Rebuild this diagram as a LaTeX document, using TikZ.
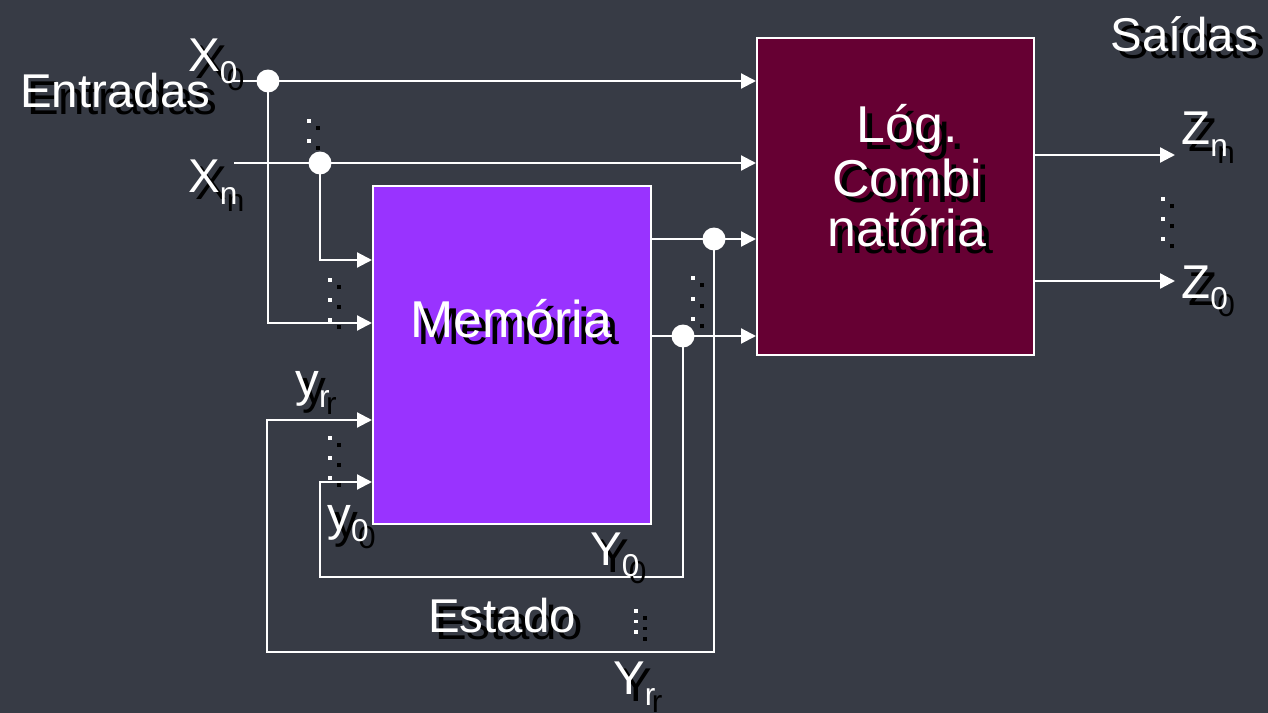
\documentclass[tikz,border=0pt]{standalone}
\usepackage{fontspec}
\setmainfont{Liberation Sans}
\usetikzlibrary{arrows.meta}
\definecolor{bg}{RGB}{55,59,69}
\definecolor{mempurple}{HTML}{9933FF}
\definecolor{logred}{HTML}{660033}
\newcommand\lsub[1]{\raisebox{-6.5pt}{\fontsize{18}{18}\selectfont #1}}
\newcommand\bigf{\fontsize{29.5}{33}\selectfont}
\newcommand\shtxt[4][]{%
  \node[lbl,#1,text=black,xshift=0.14cm,yshift=-0.14cm] (#2-sh) at (#3) {#4};
  \node[lbl,#1] (#2) at (#3) {#4};}
\newcommand\dotcol[3]{%
  \foreach \yy in {#2} {
    \fill[black] (#1+9-#3/2,\yy+7-#3/2) rectangle ++(#3,#3);
    \fill[white] (#1-#3/2,\yy-#3/2) rectangle ++(#3,#3);}}
\begin{document}
\begin{tikzpicture}[x=0.02cm,y=-0.02cm,
  lbl/.style={text=white,font=\fontsize{27}{30}\selectfont,inner sep=0pt,anchor=base west},
  box/.style={draw=white,line width=1.2pt,inner sep=0pt},
  wire/.style={draw=white,line width=1.3pt},
  arr/.style={wire,-{Triangle[length=8.5pt,width=8.5pt]}},
  jdot/.style={circle,fill=white,inner sep=0pt,minimum size=0.46cm}]
\fill[bg] (0,0) rectangle (1268,713);
\useasboundingbox (0,0) rectangle (1268,713);
% blocks
\node[box,fill=mempurple,minimum width=5.56cm,minimum height=6.76cm] (mem) at (512,355) {};
\node[box,fill=logred,minimum width=5.54cm,minimum height=6.34cm] (logic) at (895.5,196.5) {};
% junction dots
\node[jdot] (d0) at (268,81) {};
\node[jdot] (dn) at (320,163) {};
\node[jdot] (dr) at (714,239) {};
\node[jdot] (do) at (683,336) {};
% coordinates
\coordinate (x0s) at (233,81);
\coordinate (x0c) at (268,323);
\coordinate (xns) at (234,163);
\coordinate (xnc) at (320,260);
\coordinate (fr1) at (714,652);
\coordinate (fr2) at (267,652);
\coordinate (fr3) at (267,420);
\coordinate (fo1) at (683,577);
\coordinate (fo2) at (320,577);
\coordinate (fo3) at (320,482);
\coordinate (zne) at (1175,155);
\coordinate (z0e) at (1175,281);
% inputs
\draw[arr] (x0s) -- (logic.west |- x0s);
\draw[arr] (d0.center) -- (x0c) -- (mem.west |- x0c);
\draw[arr] (xns) -- (logic.west |- xns);
\draw[arr] (dn.center) -- (xnc) -- (mem.west |- xnc);
% memory outputs
\draw[arr] (mem.east |- dr) -- (logic.west |- dr);
\draw[arr] (mem.east |- do) -- (logic.west |- do);
\draw[arr] (dr.center) -- (fr1) -- (fr2) -- (fr3) -- (mem.west |- fr3);
\draw[arr] (do.center) -- (fo1) -- (fo2) -- (fo3) -- (mem.west |- fo3);
% outputs
\draw[arr] (logic.east |- zne) -- (zne);
\draw[arr] (logic.east |- z0e) -- (z0e);
% vertical ellipses
\dotcol{309}{121,141}{4.5}
\dotcol{330}{280,300,320}{4.5}
\dotcol{693}{278,299,319}{4.5}
\dotcol{1163}{199,219,239}{4.5}
\dotcol{330}{438,458,478}{4.5}
\dotcol{636}{611,621.5,632}{3.5}
% labels
\shtxt{tX0}{188,72}{X\lsub{0}}
\shtxt{tEnt}{20,108}{Entradas}
\shtxt{tXn}{188,193}{X\lsub{n}}
\shtxt{tyr}{295,396}{y\lsub{r}}
\shtxt{ty0}{327,530}{y\lsub{0}}
\shtxt{tY0}{590,565}{Y\lsub{0}}
\shtxt{tYr}{613,694}{Y\lsub{r}}
\shtxt{tEst}{428,632}{Estado}
\shtxt{tZn}{1181,145}{Z\lsub{n}}
\shtxt{tZ0}{1181,298}{Z\lsub{0}}
\shtxt{tSai}{1110,52}{Saídas}
\shtxt[font=\bigf]{tMem}{410,337}{Memória}
\shtxt[font=\bigf,anchor=base]{tL1}{907,143}{Lóg.}
\shtxt[font=\bigf,anchor=base]{tL2}{907,196}{Combi}
\shtxt[font=\bigf,anchor=base]{tL3}{907,246}{natória}
\end{tikzpicture}
\end{document}
